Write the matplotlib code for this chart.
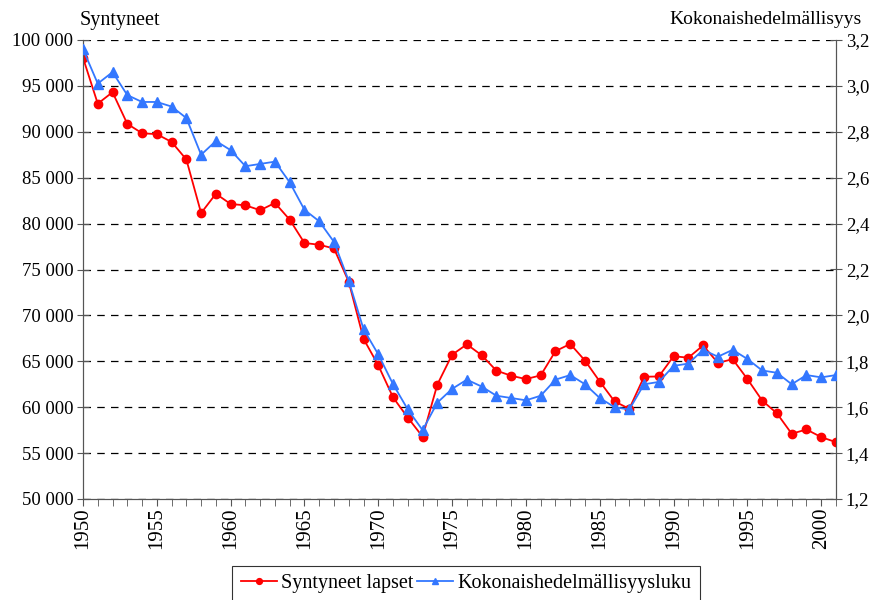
import matplotlib
matplotlib.use("Agg")
import matplotlib.pyplot as plt
from matplotlib.ticker import FixedLocator, MultipleLocator, FuncFormatter

plt.rcParams['font.family'] = ['Liberation Serif', 'DejaVu Serif']

# data
years = list(range(1950, 2002))
births = [98065, 93063, 94314, 90866, 89845, 89740, 88896, 86985, 81148, 83253,
          82129, 81996, 81454, 82251, 80428, 77885, 77697, 77289, 73654, 67450,
          64559, 61067, 58864, 56787, 62472, 65719, 66846, 65659, 63983, 63428,
          63064, 63469, 66106, 66892, 65076, 62796, 60632, 59827, 63316, 63348,
          65549, 65395, 66731, 64826, 65231, 63067, 60723, 59329, 57108, 57574,
          56742, 56189]
tfr = [3.16, 3.01, 3.06, 2.96, 2.93, 2.93, 2.91, 2.86, 2.70, 2.76,
       2.72, 2.65, 2.66, 2.67, 2.58, 2.46, 2.41, 2.32, 2.15, 1.94,
       1.83, 1.70, 1.59, 1.50, 1.62, 1.68, 1.72, 1.69, 1.65, 1.64,
       1.63, 1.65, 1.72, 1.74, 1.70, 1.64, 1.60, 1.59, 1.70, 1.71,
       1.78, 1.79, 1.85, 1.82, 1.85, 1.81, 1.76, 1.75, 1.70, 1.74,
       1.73, 1.74]
label_years = list(range(1950, 2001, 5))

fig = plt.figure(figsize=(8.75, 6), dpi=100)
ax = fig.add_axes([83/875, 1-499/600, (836-83)/875, (499-40)/600])
ax2 = ax.twinx()

spine_col = '#555555'
ax.plot(years, births, color='#ff0000', marker='o', markersize=6, lw=1.3,
        label='Syntyneet lapset', zorder=3)
ax2.plot(years, tfr, color='#3377ff', marker='^', markersize=7, lw=1.3,
         label='Kokonaishedelmällisyysluku', zorder=3)

ax.set_xlim(1950, 2001)
ax.set_ylim(50000, 100000)
ax2.set_ylim(1.2, 3.2)

ax.yaxis.set_major_locator(MultipleLocator(5000))
ax.yaxis.set_major_formatter(FuncFormatter(lambda v, p: f'{int(v):,}'.replace(',', ' ')))
ax2.yaxis.set_major_locator(MultipleLocator(0.2))
ax2.yaxis.set_major_formatter(FuncFormatter(lambda v, p: f'{v:.1f}'.replace('.', ',')))

ax.xaxis.set_major_locator(FixedLocator(label_years))
ax.xaxis.set_minor_locator(MultipleLocator(1))
ax.set_xticklabels([str(y) for y in label_years], rotation=90)

for a in (ax, ax2):
    for s in a.spines.values():
        s.set_color(spine_col)
    a.spines['top'].set_visible(False)
ax.tick_params(axis='y', direction='inout', length=8, labelsize=13.5, color=spine_col, pad=3)
ax2.tick_params(axis='y', direction='inout', length=8, labelsize=13.5, color=spine_col, pad=3)
ax.tick_params(axis='x', which='both', direction='out', length=5, color=spine_col,
               labelsize=15, pad=1)

ax.grid(axis='y', color='black', linestyle=(0, (6, 5)), lw=0.9)
ax.set_axisbelow(True)

fig.text(80/875, 1-20/600, 'Syntyneet', fontsize=14.5, ha='left', va='center')
fig.text(862/875, 1-20/600, 'Kokonaishedelmällisyys', fontsize=14, ha='right', va='center')

h1, l1 = ax.get_legend_handles_labels()
h2, l2 = ax2.get_legend_handles_labels()
leg = fig.legend(h1 + h2, l1 + l2, loc='upper center', bbox_to_anchor=(466/875, 1-566/600),
                 ncol=2, fontsize=14.5, frameon=True, fancybox=False,
                 handlelength=1.8, handletextpad=0.2, columnspacing=0.2,
                 borderpad=0.4, borderaxespad=0, markerscale=0.7)
leg.get_frame().set_edgecolor('black')
leg.get_frame().set_linewidth(0.8)

fig.savefig('out.png', dpi=100)
